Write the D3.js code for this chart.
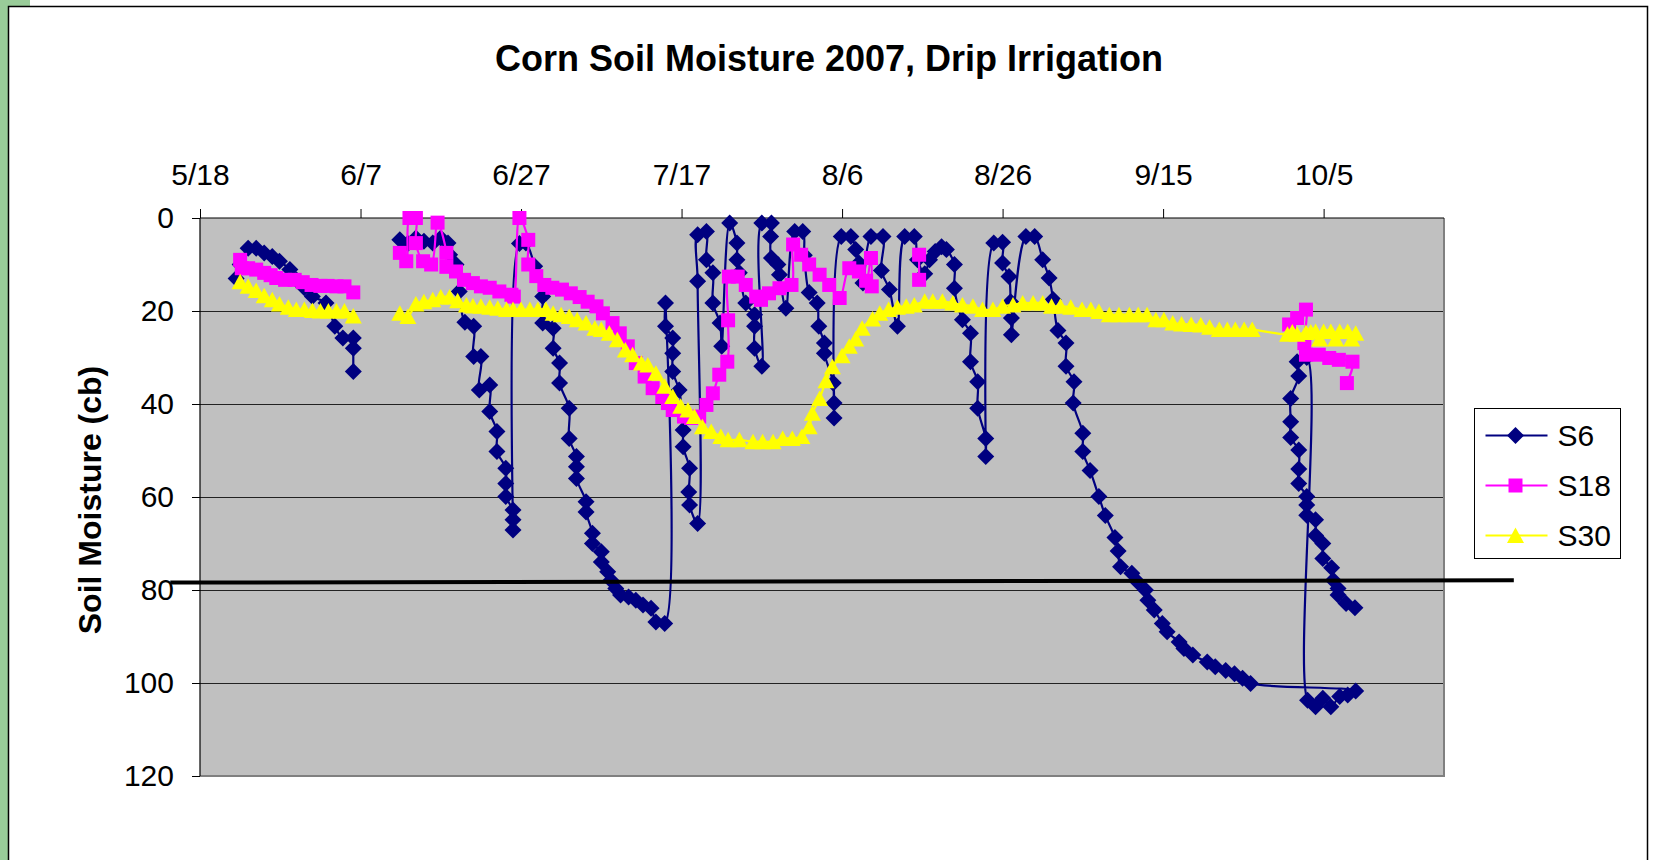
<!DOCTYPE html>
<html><head><meta charset="utf-8">
<script src="https://cdn.jsdelivr.net/npm/d3@7"></script>
<style>body{margin:0;background:#fff}svg{display:block}</style>
</head><body>
<svg id="c" width="1653" height="860"></svg>
<script>
// ---------- data (days after 5/18/2007, soil moisture in cb) ----------
const titleText = "Corn Soil Moisture 2007, Drip Irrigation";
const yTitle = "Soil Moisture (cb)";
const xTickDays = [0,20,40,60,80,100,120,140];
const xTickLabels = ["5/18","6/7","6/27","7/17","8/6","8/26","9/15","10/5"];
const yTicks = [0,20,40,60,80,100,120];
const seriesNames = ["S6","S18","S30"];

const s6 = [
[4.5,13],[5,10],[6,6.5],[7,6.5],[8,7.5],[9,8.3],[9.9,9.3],[11.2,11.1],[12,13.3],[13,15],[14,16.9],[15.7,18.3],[16.8,23.3],[17.8,25.8],[19.1,25.8],[19.1,28],[19.1,33],
null,
[24.9,4.7],[25.9,5.5],[26.9,4.3],[27.9,5],[29,5.4],[30,4.3],[30.9,5.4],[31.1,7.9],[31.9,10],[32.3,15.8],[33,22.4],[34.1,23.3],[34.1,29.8],[35,29.8],[34.8,37],[36.1,35.9],[36.1,41.6],[37,45.9],[37,50.2],[38.1,53.8],[38.1,57.1],[38.1,59.9],[39,62.8],[39,64.9],[39,67.1],
[39.8,5.5],[40.6,5.4],[41.7,10.4],[42.7,16.9],[42.7,22.6],[44,23.7],[44,28],[44.8,31.2],[44.8,35.5],[46,40.9],[46,47.4],[46.9,51.3],[46.9,53.5],[46.9,56],[48.1,61],[48.1,63.2],[48.9,67.8],[48.9,70],[50,71.8],[50,74],[50.8,76.1],[51.2,77.9],[51.8,79.7],[52.4,81.1],[53.4,81.5],[54.3,82.2],[55.2,83.2],[56.2,83.9],[56.8,86.9],[57.9,87.2],
[58,18.3],[58,23.3],[58.9,25.8],[58.9,29.1],[58.9,33],[59.7,37],[60.2,45.6],[60.2,49.2],[61,53.8],[60.9,58.9],[61,61.7],[62,65.7],
[62,13.6],[62,3.6],[63.1,2.9],[63.1,9],[63.9,11.8],[63.9,18.3],[64.8,22.6],[65,27.6],
[66,1.1],[66.9,5.4],[66.9,9],[67.2,11.8],[68,18.3],[69.1,20.8],[69.1,23.3],[69.1,28],[70,31.9],
[70,1.1],[71.2,1.1],[71.1,4],[71.2,8.6],[72,10],[72.2,12.2],[73,19.4],
[74.1,2.9],[75.1,2.9],[75.3,8],[75.9,16],[76.9,18.3],[77.1,23.3],[77.8,26.9],[77.8,29.1],[78.9,35.5],[79,39.8],[79,43],
[79.9,4],[81.1,4],[81.7,6.8],[82.1,9.7],[82.6,14],
[83.6,4],[85.1,4],[84.9,11.3],[85.9,15.4],[86.9,23.3],
[87.8,4],[89,4],[89.4,9],[90.3,12],[90.9,9],[91.6,7.2],[92.4,6.2],[93,6.8],[94,10],[94,15.1],[95,21.9],[96,24.8],[96,30.9],[96.9,35.2],[96.9,40.9],[97.9,47.4],[97.9,51.3],
[98.9,5.4],[100,5.2],[100,9.7],[100.8,12.6],[101,18],[101.1,21.5],[101.1,25.1],
[102.9,4],[104,4],[105,9],[105.8,12.9],[106.3,17.5],[106.9,24.2],[107.9,26.9],[107.9,31.9],[108.9,35.2],[108.8,39.8],[110,46.3],[110,50.2],[110.9,54.3],[112,59.9],[112.8,64],[114,68.7],[114.4,71.6],[114.7,75],[116.1,76.4],[116.8,78.2],[117.8,80],[118.1,82.2],[118.9,84.3],[119.9,87.2],[120.5,89],[122,91.2],[122.6,92.6],[123.7,94],[125.5,95.5],[126.5,96.5],[127.8,97.3],[128.9,98],[129.9,99],[130.9,100.1],
[144,101.7],[143,102.6],[142,102.9],[140.9,105.1],[139.9,103.3],[139,105.1],[138,103.7],[137.9,30],
[136.7,30.9],[136.9,34],[135.9,38.8],[135.9,43.8],[135.9,47.2],[136.9,49.9],[136.9,54],[136.9,57.1],[137.9,59.9],[137.9,61.7],[137.9,63.9],[139,64.9],[139,68.3],[139.9,70],[139.9,73.2],[141,75.2],[141.2,77.9],[141.8,79.7],[141.8,81.1],[142.8,82.9],[143.9,83.8]
];

const s18 = [
[5,9],[5.2,10.8],[6,10.8],[7,11.1],[8,11.8],[8.8,12.3],[9.5,12.9],[10.6,13.3],[11.8,13.3],[12.8,13.8],[13.9,14.4],[15,14.6],[15.9,14.6],[17,14.7],[18,14.7],[19.1,16],
null,
[24.9,7.5],[25.7,9.3],[26.1,0],[26.9,0],[26.9,5.4],[27.8,9.3],[28.8,10],[29.6,1],[30.7,7.5],[30.7,10.5],[31.9,11.5],[32.9,13.3],[34,14],[35,14.7],[36.1,15],[37.3,15.8],[38.8,16.5],[39.1,16.9],
[39.8,0],[40.9,4.7],[40.9,10],[41.9,12.5],[42.9,14.4],[43.9,15],[45.1,15.4],[46.2,16.2],[47.3,17],[48.3,18],[49.4,19],[50.2,20.5],[51.4,22.6],[52.3,24.8],[53.3,27.6],[54.3,31.2],[55.4,34.1],[56.4,36.6],[57.6,38.5],[58.3,39.8],[58.9,41.3],[60.3,42.7],[61.2,43],[62.2,42.7],[63.1,40.2],[63.9,37.7],[64.7,33.7],[65.7,30.9],[65.8,22],[65.9,12.6],
[67,12.6],[68,14.4],[69.3,16.9],[69.9,17.6],[70.9,16.2],[72.2,15.1],[73.7,14.4],[73.9,5.7],[74.9,7.9],[75.9,10],[77.2,12.2],[78.4,14.4],[79.7,17.2],[80.9,10.8],[82.1,11.5],[83,13.5],[83.6,8.6],[83.7,14.7],
null,
[89.6,7.9],[89.6,13.3],
null,
[135.7,22.9],[136.7,21.5],[137.8,19.7],[137.6,26.9],[137.8,29.4],[139.4,29.4],[140.7,30.1],[141.9,30.5],[143.6,30.9],[142.9,35.5]
];

const s30 = [
[5,13.7],[6,14.7],[7,15.6],[8,16.7],[9,17.6],[9.9,18.5],[11,19.2],[12,19.7],[13,19.7],[14,19.9],[15,20],[16,20],[17,20],[18,20],[19.1,21.1],
null,
[24.9,20.5],[25.9,21.2],[26.9,18.5],[27.9,18],[29,17.6],[30,17],[31.1,17],[32.1,17.8],[33.2,18.7],[34,18.9],[35,19],[36.1,19.2],[37.1,19.4],[38.2,19.7],[39,19.7],[40,19.7],[41.1,19.7],[42.1,19.7],[43.1,19.7],[44,20.5],[45,20.8],[46,21.2],[47,21.9],[48.1,22.6],[49.2,23.7],[50,24],[51,24.8],[52,26.2],[53,28.4],[53.9,29.4],[55,31.2],[55.8,31.6],[56.8,33.4],[57.9,36.2],[58.9,38.4],[59.9,40.5],[60.8,41.3],[61.6,42.7],[62.6,44.9],[63.7,45.9],[64.9,47],[65.8,47.7],[67.2,47.7],[68.9,48.1],[70.1,48.1],[71.4,48.1],[72.6,47.4],[73.8,47.4],[75,47],[75.9,44.9],[76.3,42],[77.2,38.8],[78,35],[78.8,32],[80,29.6],[80.9,27.6],[81.7,26],[82.5,23.7],[83.8,21.7],[84.7,20.5],[85.8,19.7],[86.9,19.2],[88,19],[89,18.7],[90.3,17.9],[91.3,17.9],[92.5,17.9],[93.8,18.3],[95,18.7],[96.3,19],[97.5,19.7],[98.8,19.7],[100,19],[101.3,18.7],[102.5,18.3],[103.8,18.3],[105,18.3],[106.1,19],[107.2,19],[108.5,19.2],[109.9,19.7],[111,19.7],[112,20.1],[113.3,20.8],[114.5,20.8],[115.8,20.8],[116.9,20.8],[118,20.8],[119.1,21.9],[120.1,21.9],[121.2,22.6],[122.3,22.8],[123.5,22.9],[124.7,23],[125.8,23.5],[127,24],[128,24],[129,24],[130.1,24],[131.1,24],
[135.5,25],[136.1,24.5],[136.7,25],[137.8,24.6],[138.4,24.5],[139,24.4],[139.5,26],[140,24.4],[140.9,24.4],[141.5,26],[142,24.4],[143,24.4],[143.5,26],[144,24.8]
];

// hand-drawn reference line (annotation), in data units
const refLine = [[-3.7,78.4],[163.7,77.9]];

// ---------- drawing ----------
const svg = d3.select("#c");
const W = 1653, H = 860;
const plot = {l:200, r:1444, t:218, b:776};
const base = Date.UTC(2007,4,18);
const toDate = d => new Date(base + d*864e5);

const x = d3.scaleUtc().domain([toDate(0), toDate(155)]).range([plot.l, plot.r]);
const y = d3.scaleLinear().domain([0,120]).range([plot.t, plot.b]);

svg.append("rect").attr("width",W).attr("height",H).attr("fill","#fff");
// green page edge
svg.append("rect").attr("x",0).attr("y",0).attr("width",8).attr("height",H).attr("fill","#99CC99");
svg.append("rect").attr("x",0).attr("y",0).attr("width",30).attr("height",6).attr("fill","#99CC99");
// chart area border
svg.append("rect").attr("x",8.5).attr("y",6.5).attr("width",1639).attr("height",H+20)
  .attr("fill","none").attr("stroke","#000").attr("stroke-width",1.5);

// plot area
svg.append("rect").attr("x",plot.l).attr("y",plot.t).attr("width",plot.r-plot.l).attr("height",plot.b-plot.t)
  .attr("fill","#C0C0C0");
// gridlines
svg.append("g").selectAll("line").data(yTicks.filter(v=>v>0 && v<120)).join("line")
  .attr("x1",plot.l).attr("x2",plot.r).attr("y1",d=>Math.round(y(d))+0.5).attr("y2",d=>Math.round(y(d))+0.5)
  .attr("stroke","#222").attr("stroke-width",1);
// right & bottom border
svg.append("path").attr("d",`M${plot.l},${plot.b}H${plot.r}V${plot.t}`).attr("fill","none")
  .attr("stroke","#808080").attr("stroke-width",2);

// axes
const fontFam = "'Liberation Sans', Arial, sans-serif";
const xAxis = svg.append("g").attr("transform",`translate(0,${plot.t})`)
  .call(d3.axisTop(x).tickValues(xTickDays.map(toDate)).tickFormat((d,i)=>xTickLabels[i]).tickSize(9).tickPadding(24));
const yAxis = svg.append("g").attr("transform",`translate(${plot.l},0)`)
  .call(d3.axisLeft(y).tickValues(yTicks).tickSize(8).tickPadding(18));
[xAxis,yAxis].forEach(g=>{
  g.select(".domain").attr("stroke","#000").attr("stroke-width",1.2);
  g.selectAll(".tick line").attr("stroke","#000").attr("stroke-width",1);
  g.selectAll("text").attr("font-family",fontFam).attr("font-size",30).attr("fill","#000");
});
xAxis.select(".domain").attr("d",`M${plot.l},0H${plot.r}`);
yAxis.select(".domain").attr("d",`M0,${plot.t}V${plot.b}`);

// title & axis title
svg.append("text").attr("x",829).attr("y",71).attr("text-anchor","middle")
  .attr("font-family",fontFam).attr("font-weight","bold").attr("font-size",36).text(titleText);
svg.append("text").attr("transform",`translate(90,${(plot.t+plot.b)/2+3}) rotate(-90)`)
  .attr("text-anchor","middle").attr("dy","0.35em")
  .attr("font-family",fontFam).attr("font-weight","bold").attr("font-size",32).text(yTitle);

// markers
const diamond = "M0,-8.5L8.5,0L0,8.5L-8.5,0Z";
const square = "M-7,-7H7V7H-7Z";
const triangle = "M0,-8L8.5,7.5L-8.5,7.5Z";
const series = [
  {name:seriesNames[0], data:s6, color:"#000080", marker:diamond},
  {name:seriesNames[1], data:s18, color:"#FF00FF", marker:square},
  {name:seriesNames[2], data:s30, color:"#FFFF00", marker:triangle}
];

const line = d3.line().defined(d=>d!==null)
  .x(d=>x(toDate(d[0]))).y(d=>y(d[1])).curve(d3.curveCatmullRom.alpha(0.5));

const gS = svg.append("g");
series.forEach(s=>{
  gS.append("path").attr("d",line(s.data)).attr("fill","none")
    .attr("stroke",s.color).attr("stroke-width",2.2);
  gS.append("g").selectAll("path").data(s.data.filter(d=>d!==null)).join("path")
    .attr("d",s.marker).attr("fill",s.color)
    .attr("transform",d=>`translate(${x(toDate(d[0]))},${y(d[1])})`);
});

// reference line
svg.append("line")
  .attr("x1",x(toDate(refLine[0][0]))).attr("y1",y(refLine[0][1]))
  .attr("x2",x(toDate(refLine[1][0]))).attr("y2",y(refLine[1][1]))
  .attr("stroke","#000").attr("stroke-width",4);

// legend
const lg = svg.append("g").attr("transform","translate(1474.5,408.5)");
lg.append("rect").attr("width",146).attr("height",150).attr("fill","#fff").attr("stroke","#000").attr("stroke-width",1);
series.forEach((s,i)=>{
  const cy = 27 + i*50;
  lg.append("line").attr("x1",11).attr("x2",73).attr("y1",cy).attr("y2",cy)
    .attr("stroke",s.color).attr("stroke-width",2.2);
  lg.append("path").attr("d",s.marker).attr("fill",s.color).attr("transform",`translate(41,${cy})`);
  lg.append("text").attr("x",83).attr("y",cy).attr("dy","0.35em")
    .attr("font-family",fontFam).attr("font-size",30).text(s.name);
});
</script>
</body></html>
